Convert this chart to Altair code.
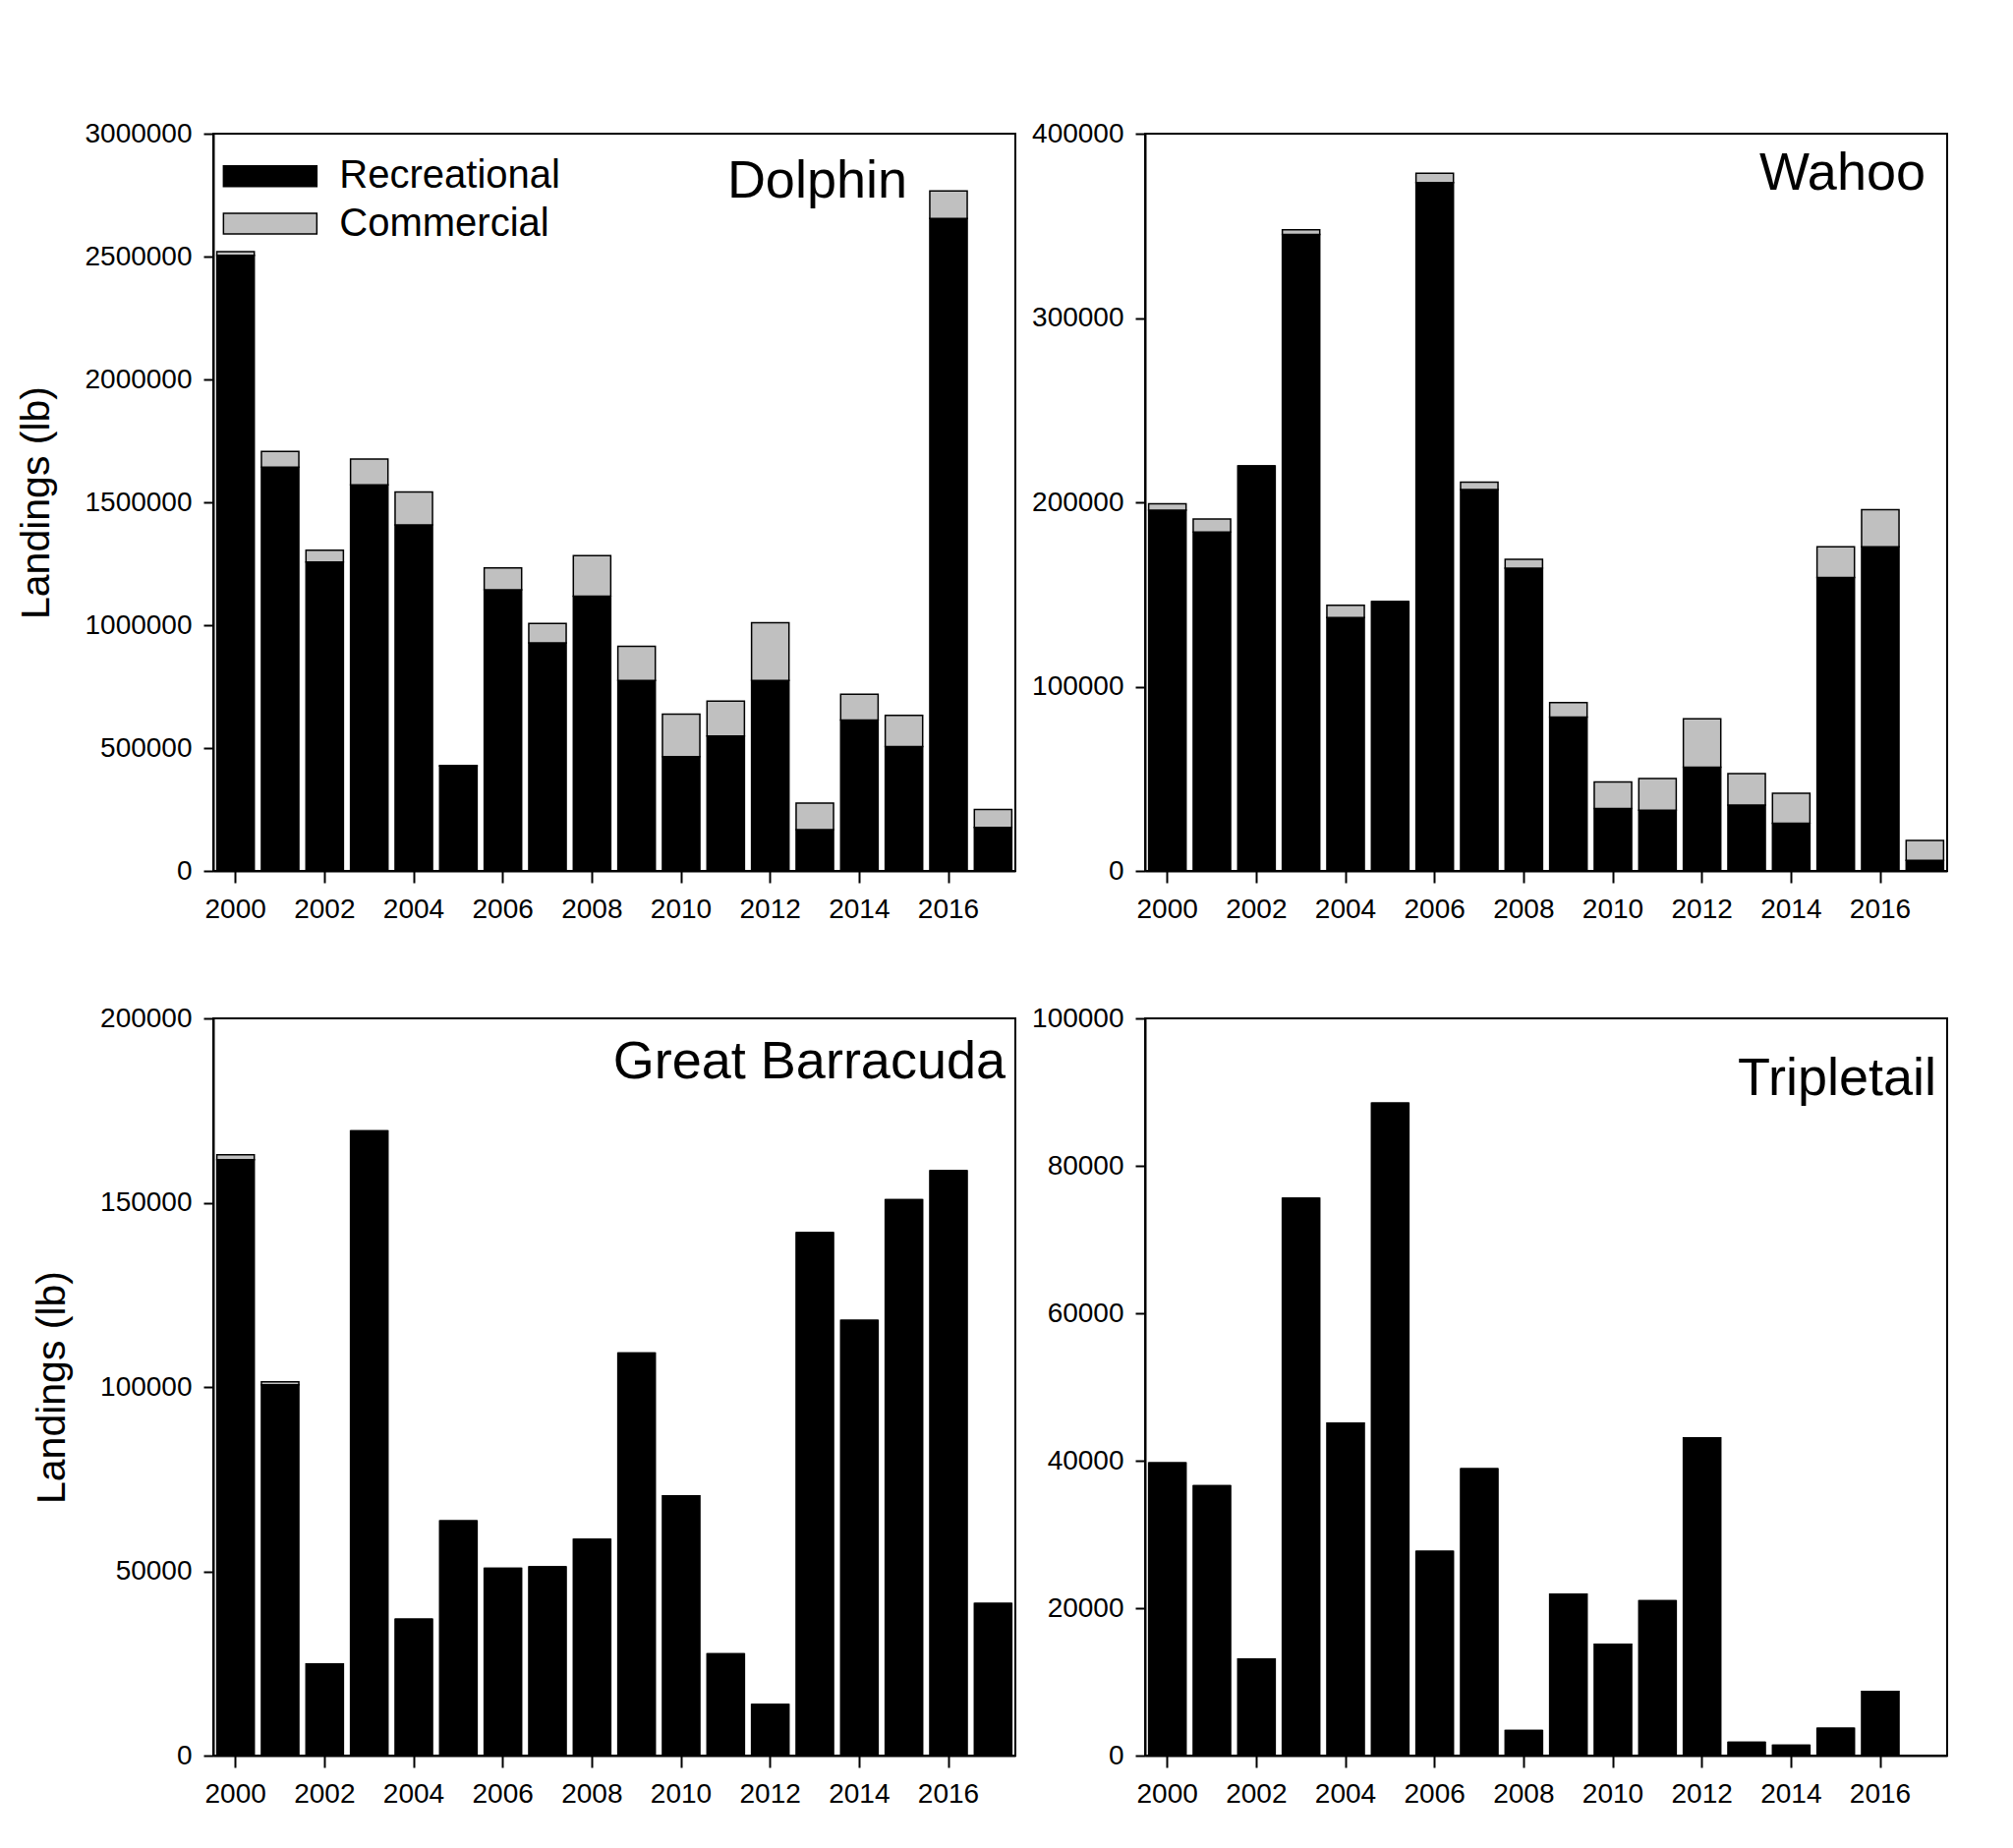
import altair as alt
import pandas as pd

years = list(range(2000, 2018))

dolphin_rec = [2505000, 1643000, 1257000, 1571000, 1408000, 427000, 1144000, 928000, 1118000,
               775000, 465000, 549000, 775000, 168000, 614000, 506000, 2655000, 177000]
dolphin_com = [15000, 64000, 48000, 105000, 134000, 2000, 89000, 79000, 165000,
               139000, 173000, 142000, 235000, 108000, 105000, 127000, 112000, 73000]

wahoo_rec = [195700, 183900, 219700, 345300, 137500, 146100, 373500, 206900, 164300,
             83500, 33900, 32900, 56300, 35800, 25900, 159200, 175900, 5800]
wahoo_com = [3500, 7000, 0, 2600, 6700, 0, 5100, 4100, 4800,
             7900, 14400, 17300, 26200, 17000, 16300, 16700, 20100, 10800]

barracuda_rec = [161700, 100600, 24900, 169500, 37000, 63700, 50800, 51200, 58700,
                 109200, 70500, 27600, 13900, 141900, 118100, 150800, 158700, 41300]
barracuda_com = [1300, 800, 0, 0, 0, 0, 0, 0, 0,
                 0, 0, 0, 0, 0, 0, 0, 0, 0]

tripletail_rec = [39700, 36600, 13100, 75600, 45100, 88500, 27700, 38900, 3400,
                  21900, 15100, 21000, 43100, 1800, 1400, 3700, 8700, 0]
tripletail_com = [0] * 18

sectors = ["Recreational", "Commercial"]
sector_colors = ["#000000", "#c0c0c0"]
even_years = list(range(2000, 2017, 2))

FONT = "Liberation Sans"
W, H = 816, 750


def make_df(rec, com):
    rows = []
    for y, r, c in zip(years, rec, com):
        rows.append({"year": y, "sector": "Recreational", "ord": 0, "lb": r})
        rows.append({"year": y, "sector": "Commercial", "ord": 1, "lb": c})
    return pd.DataFrame(rows)


def panel(rec, com, name, ymax, ystep, title_dx, title_dy, show_ytitle, legend):
    df = make_df(rec, com)
    if legend:
        leg = alt.Legend(
            orient="none", legendX=33.35, legendY=18.75, title=None, padding=0,
            symbolType="M-2,-0.44H2V0.44H-2Z", symbolSize=2256,
            symbolStrokeColor="black", symbolStrokeWidth=1.5, symbolOpacity=1,
            labelFontSize=40, labelFont=FONT, labelColor="black", labelLimit=500,
            labelOffset=46, rowPadding=3.25,
        )
    else:
        leg = None
    color = alt.Color("sector:N", scale=alt.Scale(domain=sectors, range=sector_colors),
                      legend=leg)
    yaxis = alt.Axis(
        values=list(range(0, ymax + 1, ystep)), format="d",
        title="Landings (lb)" if show_ytitle else None,
        titleFontSize=41, titleFont=FONT, titleFontWeight="normal", titleColor="black",
        titlePadding=27, tickSize=10, labelPadding=12, grid=False,
    )
    chart = alt.Chart(df).mark_bar(stroke="black", strokeWidth=1.5).encode(
        x=alt.X("year:O", scale=alt.Scale(domain=years, paddingInner=0.16, paddingOuter=0.08),
                axis=alt.Axis(values=even_years, labelAngle=0, title=None,
                              tickSize=12, labelPadding=13, grid=False)),
        y=alt.Y("lb:Q", stack="zero", scale=alt.Scale(domain=[0, ymax], nice=False),
                axis=yaxis),
        color=color,
        order=alt.Order("ord:Q", sort="ascending"),
    ).properties(
        width=W, height=H,
        title=alt.TitleParams(text=name, anchor="end", frame="group", orient="top",
                              fontSize=54, font=FONT, fontWeight="normal", color="black",
                              baseline="alphabetic", offset=0, dx=title_dx, dy=title_dy),
    )
    return chart


c1 = panel(dolphin_rec, dolphin_com, "Dolphin", 3000000, 500000, -110, 132.5, True, True)
c2 = panel(wahoo_rec, wahoo_com, "Wahoo", 400000, 100000, -22, 124.5, False, False)
c3 = panel(barracuda_rec, barracuda_com, "Great Barracuda", 200000, 50000, -10, 129.4, True, False)
c4 = panel(tripletail_rec, tripletail_com, "Tripletail", 100000, 20000, -11, 145.6, False, False)

chart = alt.concat(
    c1, c2, c3, c4, columns=2, spacing={"row": 150, "column": 132}, bounds="flush",
    padding={"left": 7, "top": 113, "right": 10, "bottom": 10},
).resolve_scale(color="independent").resolve_legend(color="independent").configure_view(
    stroke="black", strokeWidth=2
).configure_axis(
    grid=False, domainColor="black", domainWidth=2, tickColor="black", tickWidth=2,
    labelFontSize=28, labelFont=FONT, labelColor="black",
)

chart.save("out.html", embed_options={"renderer": "svg", "actions": False})
